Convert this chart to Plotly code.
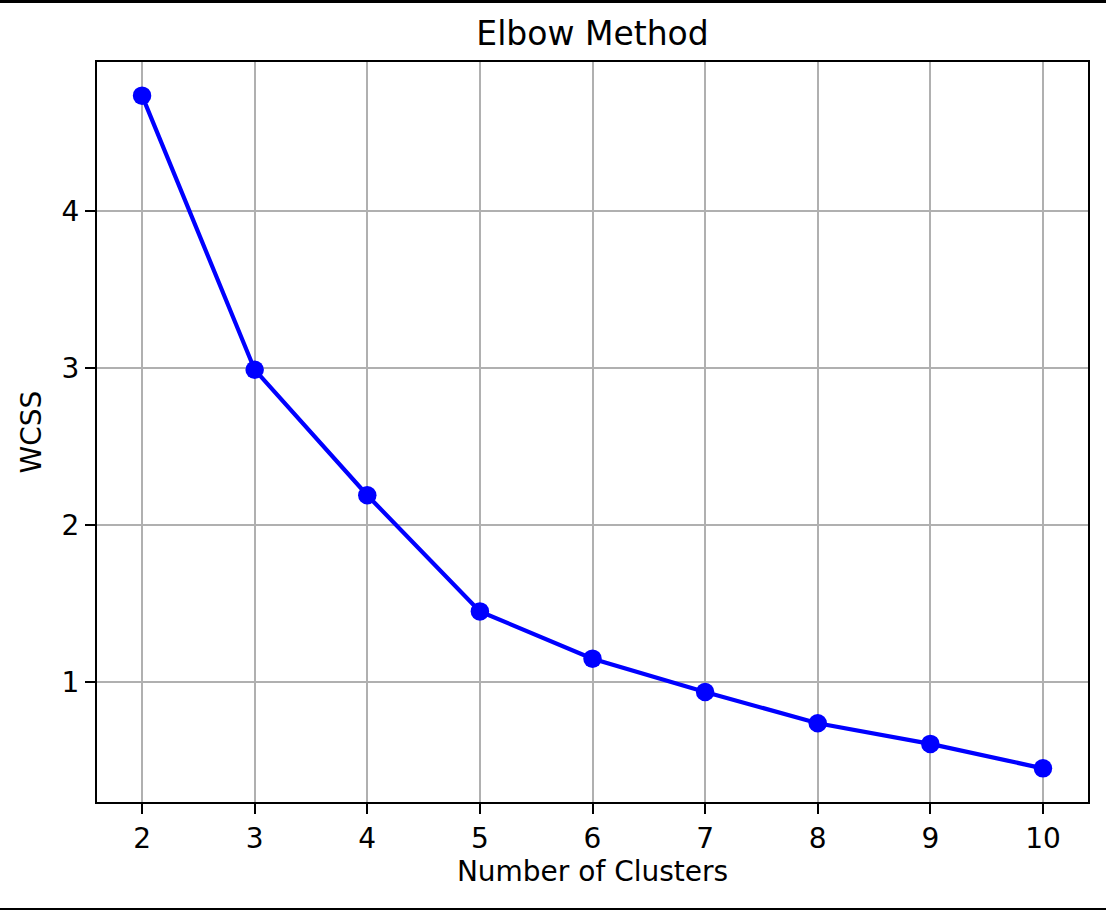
import plotly.graph_objs as go

# nombre de clusters et WCSS
clusters = [2, 3, 4, 5, 6, 7, 8, 9, 10]
wcss = [4.734, 2.988, 2.188, 1.448, 1.147, 0.935, 0.735, 0.604, 0.448]
y_ticks = [1, 2, 3, 4]

W, H = 1106, 910
m_l, m_r, m_t, m_b = 97, 18, 62, 108
plot_w = W - m_l - m_r
plot_h = H - m_t - m_b

# marges auto à 5% comme matplotlib
x_pad = (max(clusters) - min(clusters)) * 0.05
y_pad = (max(wcss) - min(wcss)) * 0.05

font = "DejaVu Sans"

fig = go.Figure()
fig.add_trace(go.Scatter(
    x=clusters,
    y=wcss,
    mode='lines+markers',
    line=dict(color='#0000ff', width=4.2),
    marker=dict(color='#0000ff', size=18.5),
    showlegend=False))

fig.update_layout(
    width=W,
    height=H,
    paper_bgcolor='white',
    plot_bgcolor='white',
    margin=dict(l=m_l, r=m_r, t=m_t, b=m_b, pad=0),
    font=dict(family=font, size=28, color='black'),
    title=dict(text='Elbow Method',
               font=dict(family=font, size=33, color='black'),
               x=0.5, xanchor='center',
               xref='paper',
               y=1 - 45 / H, yanchor='bottom', yref='container'),
)

axis_style = dict(
    showline=True,
    linecolor='black',
    linewidth=2.2,
    mirror=True,
    ticks='outside',
    ticklen=10,
    tickwidth=2.2,
    tickcolor='black',
    showgrid=True,
    gridcolor='#b0b0b0',
    gridwidth=2.2,
    zeroline=False,
    tickfont=dict(family=font, size=28, color='black'),
)

fig.update_xaxes(
    range=[min(clusters) - x_pad, max(clusters) + x_pad],
    tickvals=clusters,
    title=dict(text='Number of Clusters', font=dict(family=font, size=28, color='black'), standoff=8),
    **axis_style)
fig.update_yaxes(
    range=[min(wcss) - y_pad, max(wcss) + y_pad],
    tickvals=y_ticks,
    title=dict(text='WCSS', font=dict(family=font, size=28, color='black'), standoff=12),
    **axis_style)

# bandes noires en haut et en bas de la capture
top_y = (H - m_b) / plot_h
fig.add_shape(type='rect', xref='paper', yref='paper',
              x0=-m_l / plot_w, x1=1 + m_r / plot_w,
              y0=(H - 3 - m_b) / plot_h, y1=top_y + 0.01,
              fillcolor='black', line=dict(width=0))
fig.add_shape(type='rect', xref='paper', yref='paper',
              x0=-m_l / plot_w, x1=1 + m_r / plot_w,
              y0=-m_b / plot_h - 0.01, y1=(2 - m_b) / plot_h,
              fillcolor='black', line=dict(width=0))

# pas de marge autour de la page
fig.write_html("out.html",
               config=dict(displayModeBar=False),
               post_script="document.body.style.margin='0';document.body.style.overflow='hidden';")
